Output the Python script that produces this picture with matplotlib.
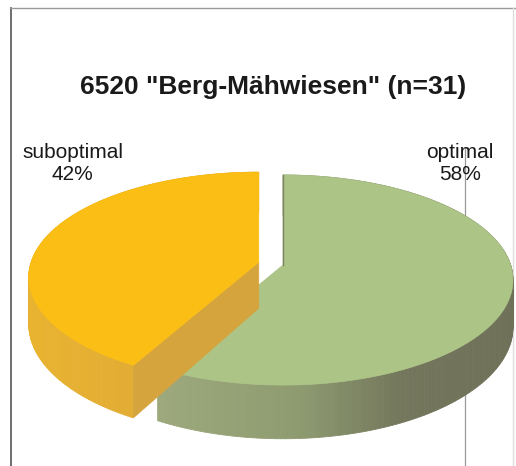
import numpy as np
import matplotlib
matplotlib.use('Agg')
import matplotlib.pyplot as plt
from matplotlib.patches import Polygon

# data
labels = ['optimal', 'suboptimal']
shares = [58, 42]
explode = [0.0, 0.11]
title = '6520 "Berg-Mähwiesen" (n=31)'

top_colors = ['#adc487', '#fbbe14']
plt.rcParams['font.family'] = ['Liberation Sans', 'DejaVu Sans']

W, H = 516, 466
fig = plt.figure(figsize=(W/100, H/100), dpi=100)
ax = fig.add_axes([0, 0, 1, 1])
ax.set_xlim(0, W)
ax.set_ylim(H, 0)
ax.axis('off')

# pseudo 3d projection of the disc (pixel space)
cx, cy = 283, 265
A, B, k, D = 227.6, 102.9, 0.143, 46

def proj(u, v, z=0, off=(0, 0)):
    w = 1 + k*v
    return cx + A*u/w + off[0], cy - B*v/w + D*z/w + off[1]

def wall_color(i, x):
    if i == 0:
        xs = [150, 300, 400, 520]
        cs = np.array([[158,170,125],[142,155,112],[116,119,92],[110,112,88]])/255
    else:
        xs = [20, 140, 260]
        cs = np.array([[233,180,48],[226,172,52],[220,168,58]])/255
    return [np.interp(x, xs, cs[:, j]) for j in range(3)]

# frame and stray line behind
ax.plot([10.5, 10.5], [8, H], color='#555555', lw=1.2, zorder=1)
ax.plot([10, W], [8, 8], color='#999999', lw=1.0, zorder=1)
ax.plot([513, 513], [8, H], color='#dddddd', lw=1.0, zorder=1)
ax.plot([465, 465], [148, H], color='#999999', lw=0.9, zorder=1)

start = 90.0
z = 2
for i, (s, ex) in enumerate(zip(shares, explode)):
    span = s/100*360
    if i == 0:
        t0, t1 = start - span, start
    else:
        t0, t1 = start, start + span
    mid = np.radians((t0 + t1)/2)
    # explode offset in screen space
    off = (A*ex*np.cos(mid), -B*ex*np.sin(mid))
    th = np.radians(np.linspace(t0, t1, 200))
    uu, vv = np.cos(th), np.sin(th)
    # outer wall, strip by strip
    for j in range(len(th)-1):
        p = [proj(uu[j], vv[j], 0, off), proj(uu[j+1], vv[j+1], 0, off),
             proj(uu[j+1], vv[j+1], 1, off), proj(uu[j], vv[j], 1, off)]
        c = wall_color(i, (p[0][0]+p[1][0])/2)
        ax.add_patch(Polygon(p, closed=True, fc=c, ec=c, lw=0.6, zorder=z))
    z += 1
    # visible radial face
    if i == 1:
        e = (uu[-1], vv[-1])
        p = [proj(0, 0, 0, off), proj(*e, 0, off), proj(*e, 1, off), proj(0, 0, 1, off)]
        ax.add_patch(Polygon(p, closed=True, fc='#d6a43c', ec='#d6a43c', lw=0.5, zorder=z))
        z += 1
    # top face
    pts = [proj(0, 0, 0, off)] + [proj(a, b, 0, off) for a, b in zip(uu, vv)]
    ax.add_patch(Polygon(pts, closed=True, fc=top_colors[i], ec=top_colors[i], lw=0.5, zorder=z))
    z += 1
    if i == 0:
        p0, p1 = proj(0, 0, 0, off), proj(uu[-1], vv[-1], 0, off)
        ax.plot([p0[0], p1[0]], [p0[1], p1[1]], color='#7d8466', lw=1.0, zorder=z)
        z += 1

ax.text(273, 87, title, ha='center', va='center', fontsize=19, fontweight='bold',
        color='#1a1a1a', zorder=20)
ax.text(460, 163, '%s\n%d%%' % (labels[0], shares[0]), ha='center', va='center',
        fontsize=15, color='#1a1a1a', zorder=20)
ax.text(72.5, 163, '%s\n%d%%' % (labels[1], shares[1]), ha='center', va='center',
        fontsize=15, color='#1a1a1a', zorder=20)

fig.savefig('out.png', dpi=100)
